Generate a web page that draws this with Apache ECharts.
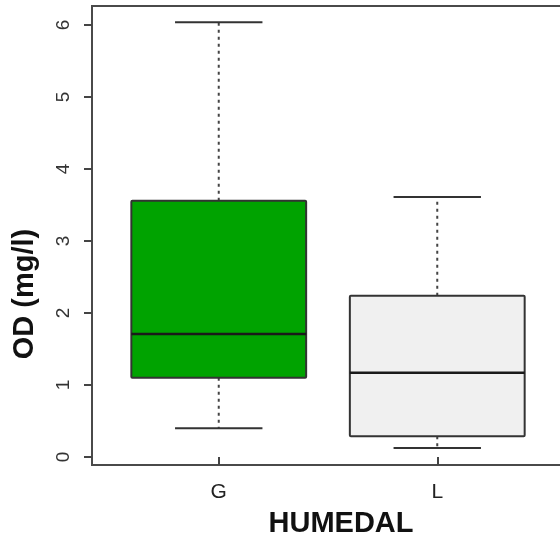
<!DOCTYPE html>
<html>
<head>
<meta charset="utf-8">
<script src="https://cdn.jsdelivr.net/npm/echarts@6/dist/echarts.min.js"></script>
<style>
html,body{margin:0;padding:0;background:#fff;}
#chart{width:560px;height:542px;}
</style>
</head>
<body>
<div id="chart"></div>
<script>
const categories = ['G', 'L'];
const lowWhisker = [0.40, 0.125];
const q1 = [1.10, 0.29];
const median = [1.71, 1.17];
const q3 = [3.56, 2.24];
const highWhisker = [6.04, 3.61];
const boxFills = ['#00a300', '#f0f0f0'];
const yTicks = [0, 1, 2, 3, 4, 5, 6];
const xTicks = [1, 2];

const boxData = categories.map((c, i) => [i + 1, lowWhisker[i], q1[i], median[i], q3[i], highWhisker[i]]);

const chart = echarts.init(document.getElementById('chart'), null, {renderer: 'canvas'});

function renderItem(params, api) {
  const x = api.value(0);
  const idx = params.dataIndex;
  const low = api.coord([x, api.value(1)]);
  const bq1 = api.coord([x, api.value(2)]);
  const med = api.coord([x, api.value(3)]);
  const bq3 = api.coord([x, api.value(4)]);
  const high = api.coord([x, api.value(5)]);
  const bw = api.size([0.8, 0])[0];
  const cw = api.size([0.4, 0])[0];
  const cx = low[0];
  const dark = '#333';
  const dotStyle = {stroke: '#444', lineWidth: 2, lineDash: [3, 4]};
  return {
    type: 'group',
    children: [
      {type: 'line', shape: {x1: cx, y1: bq3[1], x2: cx, y2: high[1]}, style: dotStyle},
      {type: 'line', shape: {x1: cx, y1: bq1[1], x2: cx, y2: low[1]}, style: dotStyle},
      {type: 'line', shape: {x1: cx - cw / 2, y1: high[1], x2: cx + cw / 2, y2: high[1]}, style: {stroke: dark, lineWidth: 2}},
      {type: 'line', shape: {x1: cx - cw / 2, y1: low[1], x2: cx + cw / 2, y2: low[1]}, style: {stroke: dark, lineWidth: 2}},
      {type: 'rect', shape: {x: cx - bw / 2, y: bq3[1], width: bw, height: bq1[1] - bq3[1], r: 1}, style: {fill: boxFills[idx], stroke: dark, lineWidth: 2}},
      {type: 'line', shape: {x1: cx - bw / 2, y1: med[1], x2: cx + bw / 2, y2: med[1]}, style: {stroke: '#1a1a1a', lineWidth: 2.5}}
    ]
  };
}

chart.setOption({
  animation: false,
  backgroundColor: '#fff',
  grid: {
    left: 92, top: 6, width: 472, height: 459,
    show: true, borderColor: '#4a4a4a', borderWidth: 2, backgroundColor: 'transparent',
    outerBoundsMode: 'none', containLabel: false
  },
  xAxis: {
    type: 'value', min: 0.42, max: 2.58,
    axisLine: {show: false},
    splitLine: {show: false},
    axisTick: {show: true, customValues: xTicks, length: 8, lineStyle: {color: '#444', width: 2}},
    axisLabel: {
      customValues: xTicks, margin: 17,
      formatter: v => categories[Math.round(v) - 1],
      fontFamily: 'Liberation Sans, Arial, sans-serif', fontSize: 21, color: '#222'
    }
  },
  yAxis: {
    type: 'value', min: -0.111, max: 6.264,
    axisLine: {show: false},
    splitLine: {show: false},
    axisTick: {show: true, customValues: yTicks, length: 8, lineStyle: {color: '#444', width: 2}},
    axisLabel: {
      customValues: yTicks, rotate: 90, margin: 19,
      fontFamily: 'Liberation Sans, Arial, sans-serif', fontSize: 19, color: '#333'
    }
  },
  graphic: [
    {type: 'text', x: 25, y: 294, rotation: Math.PI / 2,
     style: {text: 'OD (mg/l)', font: 'bold 29px "Liberation Sans", Arial, sans-serif', fill: '#111', textAlign: 'center', textVerticalAlign: 'middle'}},
    {type: 'text', x: 341, y: 524,
     style: {text: 'HUMEDAL', font: 'bold 29px "Liberation Sans", Arial, sans-serif', fill: '#111', textAlign: 'center', textVerticalAlign: 'middle'}}
  ],
  series: [{
    type: 'custom',
    renderItem: renderItem,
    encode: {x: 0, y: [1, 2, 3, 4, 5]},
    data: boxData,
    clip: false
  }]
});
</script>
</body>
</html>
